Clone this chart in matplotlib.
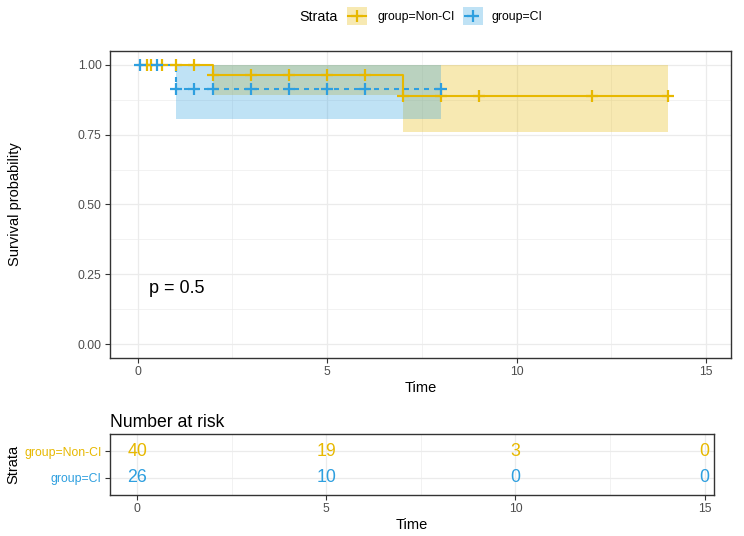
import numpy as np
import matplotlib
matplotlib.use("Agg")
import matplotlib.pyplot as plt
from matplotlib.patches import Rectangle
from matplotlib.lines import Line2D
from matplotlib.ticker import MultipleLocator

plt.rcParams['font.family'] = ['Liberation Sans', 'DejaVu Sans']

# ---------------- data ----------------
strata = ["group=Non-CI", "group=CI"]
colors = ["#E7B800", "#2E9FDF"]

noncI_time = [0, 2, 7, 14]
noncI_surv = [1.0, 0.963, 0.889, 0.889]
noncI_lower = [1.0, 0.894, 0.759, 0.759]
noncI_upper = [1.0, 1.0, 1.0, 1.0]
noncI_censor = [0.25, 0.35, 0.65, 1.0, 1.5, 2, 3, 4, 5, 6, 7, 8, 9, 12, 14]

ci_time = [0, 1, 8]
ci_surv = [1.0, 0.913, 0.913]
ci_lower = [1.0, 0.808, 0.808]
ci_upper = [1.0, 1.0, 1.0]
ci_censor = [0.07, 0.5, 1.0, 1.5, 2, 3, 4, 5, 6, 8]

risk_times = [0, 5, 10, 15]
risk_noncI = [40, 19, 3, 0]
risk_ci = [26, 10, 0, 0]

pval_text = "p = 0.5"

# ---------------- figure ----------------
W, H = 744, 536
fig = plt.figure(figsize=(W / 100, H / 100), dpi=100)

def px_axes(left, top, right, bottom):
    return fig.add_axes([left / W, 1 - bottom / H, (right - left) / W, (bottom - top) / H])

TICK_C = "#4D4D4D"
BORDER_C = "#333333"
GRID_C = "#EBEBEB"

def style(ax):
    for s in ax.spines.values():
        s.set_color(BORDER_C)
        s.set_linewidth(1.0)
    ax.tick_params(axis='both', which='major', length=3.5, width=0.8, color=BORDER_C,
                   labelcolor=TICK_C, labelsize=8.8, pad=2.5)
    ax.tick_params(axis='both', which='minor', length=0)
    ax.grid(which='major', color=GRID_C, lw=0.9)
    ax.grid(which='minor', color=GRID_C, lw=0.45)
    ax.set_axisbelow(True)

# main survival panel
ax = px_axes(110, 51, 731, 358)
style(ax)
ax.set_xlim(-0.73, 15.66)
ax.set_ylim(-0.05, 1.05)
ax.xaxis.set_major_locator(MultipleLocator(5))
ax.xaxis.set_minor_locator(MultipleLocator(2.5))
ax.yaxis.set_major_locator(MultipleLocator(0.25))
ax.yaxis.set_minor_locator(MultipleLocator(0.125))
ax.yaxis.set_major_formatter(matplotlib.ticker.FormatStrFormatter("%.2f"))

groups = [
    (noncI_time, noncI_surv, noncI_lower, noncI_upper, noncI_censor, colors[0], '-'),
    (ci_time, ci_surv, ci_lower, ci_upper, ci_censor, colors[1], (0, (2.4, 2.4))),
]
for t, s, lo, up, cens, c, ls in groups:
    ax.fill_between(t, lo, up, step='post', color=c, alpha=0.3, lw=0)
for t, s, lo, up, cens, c, ls in groups:
    ax.step(t, s, where='post', color=c, lw=1.5, ls=ls, zorder=3)
    idx = np.searchsorted(t, cens, side='right') - 1
    cs = np.asarray(s)[idx]
    ax.plot(cens, cs, ls='none', marker='+', ms=8.5, mew=1.6, color=c, zorder=4)

ax.text(0.3, 0.2, pval_text, fontsize=13, ha='left', va='center', color='black')
ax.set_xlabel("Time", fontsize=10.5, labelpad=2)
ax.set_ylabel("Survival probability", fontsize=10.5, labelpad=40)

# risk table
rax = px_axes(110, 434, 714, 495)
style(rax)
rax.set_xlim(-0.72, 15.25)
rax.set_ylim(0.37, 2.63)
rax.xaxis.set_major_locator(MultipleLocator(5))
rax.xaxis.set_minor_locator(MultipleLocator(2.5))
rax.set_yticks([2, 1])
rax.set_yticklabels(strata)
for lab, c in zip(rax.get_yticklabels(), colors):
    lab.set_color(c)
for row_y, vals, c in [(2, risk_noncI, colors[0]), (1, risk_ci, colors[1])]:
    for tx, v in zip(risk_times, vals):
        rax.text(tx, row_y, str(v), color=c, fontsize=12.8, ha='center', va='center')
rax.set_xlabel("Time", fontsize=10.5, labelpad=2)
rax.set_ylabel("Strata", fontsize=10.5, labelpad=3)
rax.set_title("Number at risk", fontsize=12.7, loc='left', pad=5)

# legend (top)
lax = fig.add_axes([0, 0, 1, 1], zorder=10)
lax.set_xlim(0, W)
lax.set_ylim(H, 0)
lax.axis('off')
lax.patch.set_alpha(0)
lax.text(299, 17, "Strata", fontsize=10.3, ha='left', va='center')
key_x = [347, 463]
txt_x = [377, 492]
lstyles = ['-', (0, (2.2, 2.2))]
for kx, tx, c, lab, ls in zip(key_x, txt_x, colors, strata, lstyles):
    lax.add_patch(Rectangle((kx, 7), 20, 18, facecolor=c, alpha=0.3, lw=0))
    lax.add_line(Line2D([kx + 1, kx + 19], [16, 16], color=c, lw=1.5, ls=ls))
    lax.plot([kx + 10], [16], marker='+', ms=8.5, mew=1.6, color=c)
    lax.text(tx, 17, lab, fontsize=8.8, ha='left', va='center')

fig.savefig("out.png", dpi=100)
